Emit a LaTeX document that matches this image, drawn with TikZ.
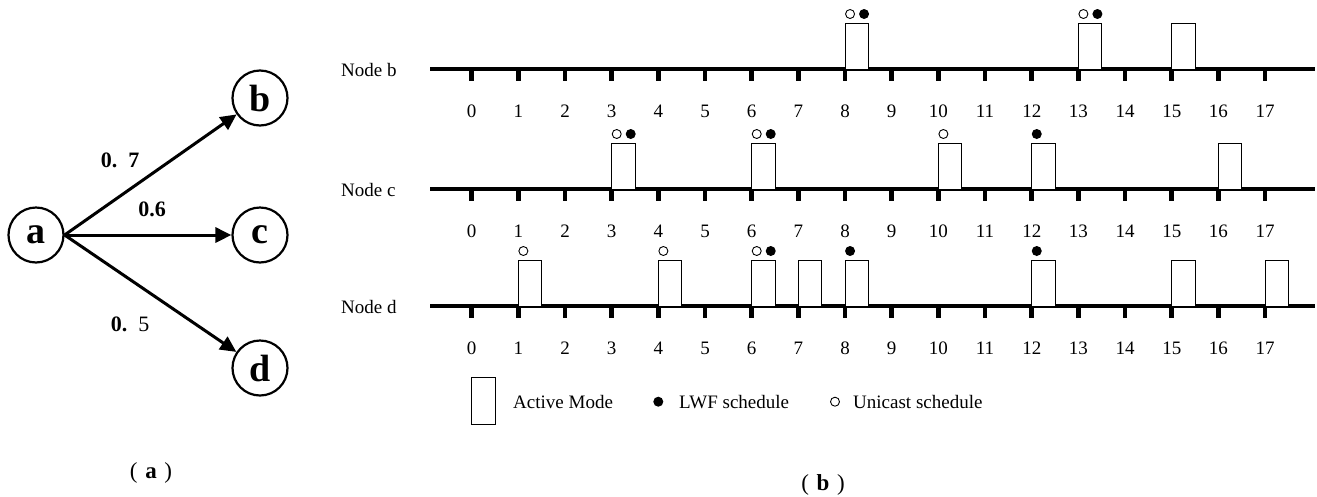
\documentclass[tikz,border=0pt]{standalone}
\usepackage{fontspec}
\setmainfont{Liberation Serif}
\usetikzlibrary{arrows.meta}
\tikzset{
  gnode/.style={circle,draw,line width=2.2pt,minimum size=55pt,inner sep=0pt,font=\fontsize{38}{40}\selectfont\bfseries},
  garrow/.style={line width=3pt,-{Triangle[length=16pt,width=15pt]}},
  elabel/.style={font=\fontsize{22}{24}\selectfont\bfseries},
  txt/.style={font=\fontsize{19}{22}\selectfont,inner sep=0pt},
  axis/.style={line width=4pt},
  slot/.style={draw,line width=0.9pt,fill=white},
  umark/.style={draw,line width=0.9pt,fill=white},
  lmark/.style={fill=black},
  captext/.style={font=\fontsize{23}{25}\selectfont}
}
\begin{document}
\begin{tikzpicture}[x=1pt,y=-1pt]
\useasboundingbox (0,0) rectangle (1317,496);
% ---- panel (a)
\node[gnode] (a) at (36,235) {a};
\node[gnode] (b) at (260,98) {b};
\node[gnode] (c) at (260,235) {c};
\node[gnode] (d) at (260,368) {d};
\draw[garrow] (a.east) -- (b);
\draw[garrow] (a.east) -- (c);
\draw[garrow] (a.east) -- (d);
\node[elabel] (l7) at (120,160) {0.\,\,\,7};
\node[elabel] (l6) at (152,209) {0.6};
\node[elabel] (l5) at (130,324) {0.\,\,\,\mdseries 5};
\node[captext] (capa) at (151,473) {(\,\,\textbf{a}\,\,)};
% ---- panel (b)
\def\xo{471.7}
\def\u{46.67}
\foreach \row/\yy in {b/69,c/189,d/306}{
  \draw[axis] (430,\yy) -- (1315,\yy);
  \node[txt,anchor=west] (lab\row) at (341,\yy+1) {Node \row};
  \foreach \i in {0,...,17}{
    \fill ({\xo+\i*\u-2.3},{\yy+2}) rectangle ({\xo+\i*\u+2.3},{\yy+12});
    \node[txt] (n\row\i) at ({\xo+\i*\u},{\yy+42}) {\i};
  }
}
% slots: row y, slot index, marks (0 none,1 open,2 filled,3 both)
\foreach \yy/\i/\m in {69/8/3,69/13/3,69/15/0,
                       189/3/3,189/6/3,189/10/1,189/12/2,189/16/0,
                       306/1/1,306/4/1,306/6/3,306/7/0,306/8/2,306/12/2,306/15/0,306/17/0}{
  \draw[slot] ({\xo+\i*\u},\yy) rectangle ({\xo+\i*\u+23.3},{\yy-46});
  \ifnum\m=1 \draw[umark] ({\xo+\i*\u+5},{\yy-55}) circle (4.5); \fi
  \ifnum\m=2 \fill[lmark] ({\xo+\i*\u+5},{\yy-55}) circle (5); \fi
  \ifnum\m=3
    \draw[umark] ({\xo+\i*\u+5},{\yy-55}) circle (4.5);
    \fill[lmark] ({\xo+\i*\u+19},{\yy-55}) circle (5);
  \fi
}
% legend
\draw[slot] (471.7,377) rectangle (495,424);
\node[txt,anchor=west] (lg1) at (513,401.7) {Active Mode};
\fill[lmark] (658.3,401.7) circle (5);
\node[txt,anchor=west] (lg2) at (679,401.7) {LWF schedule};
\draw[umark] (835,401.7) circle (4.5);
\node[txt,anchor=west] (lg3) at (853,401.7) {Unicast schedule};
\node[captext] (capb) at (823,485) {(\,\,\textbf{b}\,\,)};
\end{tikzpicture}
\end{document}
